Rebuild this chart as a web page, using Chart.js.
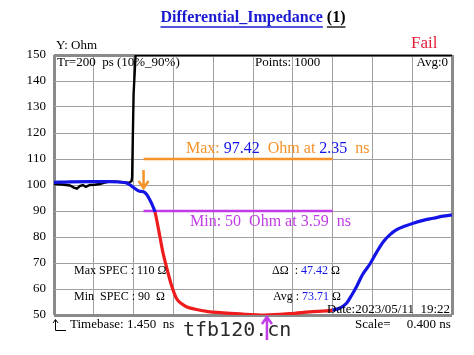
<!DOCTYPE html>
<html>
<head>
<meta charset="utf-8">
<script src="https://cdn.jsdelivr.net/npm/chart.js@4"></script>
<style>
  body { margin: 0; background: #fff; }
  canvas { display: block; }
</style>
</head>
<body>
<canvas id="tdrChart" width="474" height="355"></canvas>
<script>
// Time axis (ns) and readings
const timebase = 1.45;
const scaleNs = 0.4;

// Black trace (goes open after the launch)
const blackTime = [1.45, 1.53, 1.61, 1.65, 1.68, 1.71, 1.74, 1.77, 1.81, 1.86, 1.91, 1.96, 2.01, 2.06, 2.11, 2.17, 2.21, 2.23, 2.235, 2.25, 2.27, 5.45];
const blackOhm  = [100.4, 100.2, 99.8, 99.0, 98.6, 99.6, 100.0, 99.3, 100.0, 100.1, 100.4, 100.9, 101.3, 101.4, 101.2, 100.9, 101.0, 101.5, 103, 135, 150, 150];

// Differential impedance trace
const diffTime = [1.45, 1.61, 1.81, 2.01, 2.11, 2.18, 2.24, 2.31, 2.35, 2.38, 2.41, 2.445, 2.465, 2.515, 2.545, 2.58, 2.63, 2.68, 2.73, 2.78, 2.87, 3.0, 3.12, 3.32, 3.57, 3.82, 4.02, 4.25, 4.32, 4.39, 4.44, 4.49, 4.55, 4.63, 4.69, 4.76, 4.83, 4.89, 4.98, 5.06, 5.16, 5.26, 5.36, 5.45];
const diffOhm  = [101.0, 101.2, 101.3, 101.3, 101.1, 100.8, 99.3, 97.6, 97.4, 96.4, 94.5, 91.7, 89.6, 80.0, 74.0, 68.6, 61.5, 56.4, 54.4, 53.2, 52.2, 51.3, 50.9, 50.4, 50.0, 50.5, 51.2, 51.9, 52.6, 54.5, 57.5, 60.9, 65.5, 69.9, 74.0, 78.2, 81.0, 82.7, 84.2, 85.3, 86.4, 87.2, 88.0, 88.5];

// Spec window
const specTime = [2.35, 4.25];
const maxSpec = 110;
const minSpec = 90;
const failFrom = 2.46;

// Results
const maxOhm = 97.42, maxAt = 2.35;
const minOhm = 50, minAt = 3.59;
const deltaOhm = 47.42, avgOhm = 73.71;

const BLUE = '#1414e6';
const RED = '#ee1c1c';
const ORANGE = '#f5922a';
const VIOLET = '#c13ce6';
const GRID = '#a0a0a0';
const FRAME = '#8a8a8a';
const SERIF = '"Liberation Serif", "Times New Roman", serif';

function toPoints(xs, ys) {
    return xs.map((x, i) => ({ x: x, y: ys[i] }));
}

function drawParts(ctx, x, y, parts, font) {
    ctx.font = font;
    parts.forEach(p => {
        ctx.fillStyle = p[1];
        ctx.fillText(p[0], x, y);
        x += ctx.measureText(p[0]).width;
    });
}

// Texts, arrows and markers around the plot
const overlay = {
    id: 'overlay',
    afterDraw(chart) {
        const ctx = chart.ctx;
        const xs = chart.scales.x;
        const area = chart.chartArea;
        ctx.save();
        ctx.textBaseline = 'middle';
        ctx.textAlign = 'left';

        // title
        ctx.font = 'bold 16px ' + SERIF;
        const t1 = 'Differential_Impedance';
        const t2 = ' (1)';
        const w1 = ctx.measureText(t1).width, w2 = ctx.measureText(t2).width;
        let tx = 253 - (w1 + w2) / 2;
        ctx.fillStyle = '#1a1ad0';
        ctx.fillText(t1, tx, 18);
        ctx.fillStyle = '#000';
        ctx.fillText(t2, tx + w1, 18);
        ctx.lineWidth = 1.3;
        ctx.strokeStyle = '#1a1ad0';
        ctx.beginPath(); ctx.moveTo(tx, 27); ctx.lineTo(tx + w1, 27); ctx.stroke();
        ctx.strokeStyle = '#000';
        ctx.beginPath(); ctx.moveTo(tx + w1 + 4, 27); ctx.lineTo(tx + w1 + w2, 27); ctx.stroke();

        ctx.fillStyle = '#000';
        ctx.font = '13px ' + SERIF;
        ctx.fillText('Y: Ohm', 56, 46);
        ctx.fillStyle = '#e0203a';
        ctx.font = '17px ' + SERIF;
        ctx.fillText('Fail', 411, 44);

        ctx.fillStyle = '#000';
        ctx.font = '13px ' + SERIF;
        ctx.fillText('Tr=200  ps (10%_90%)', 57, 63);
        ctx.fillText('Points: 1000', 255, 63);
        ctx.textAlign = 'right';
        ctx.fillText('Avg:0', 448, 63);
        ctx.textAlign = 'left';

        // max / min readings
        const big = '16px ' + SERIF;
        drawParts(ctx, 186, 149, [['Max: ', ORANGE], [maxOhm.toFixed(2), BLUE], ['  Ohm at ', ORANGE], [maxAt.toFixed(2), BLUE], ['  ns', ORANGE]], big);
        drawParts(ctx, 190, 222, [['Min: ' + minOhm + '  Ohm at ' + minAt.toFixed(2) + '  ns', VIOLET]], big);

        const small = '12px ' + SERIF;
        drawParts(ctx, 74, 271, [['Max SPEC : ' + maxSpec + ' \u03a9', '#000']], small);
        drawParts(ctx, 74, 297, [['Min  SPEC : ' + minSpec + '  \u03a9', '#000']], small);
        drawParts(ctx, 272, 271, [['\u0394\u03a9  : ', '#000'], [deltaOhm.toFixed(2), BLUE], [' \u03a9', '#000']], small);
        drawParts(ctx, 273, 297, [['Avg : ', '#000'], [avgOhm.toFixed(2), BLUE], [' \u03a9', '#000']], small);
        drawParts(ctx, 327, 310, [['Date:2023/05/11  19:22', '#000']], '13px ' + SERIF);

        drawParts(ctx, 70, 325, [['Timebase: ' + timebase.toFixed(3) + '  ns', '#000']], '13px ' + SERIF);
        drawParts(ctx, 355, 325, [['Scale=     ' + scaleNs.toFixed(3) + ' ns', '#000']], '13px ' + SERIF);

        // timebase marker
        ctx.strokeStyle = '#000';
        ctx.lineWidth = 1;
        ctx.beginPath();
        ctx.moveTo(55.5, 320); ctx.lineTo(55.5, 330.5); ctx.lineTo(66, 330.5);
        ctx.moveTo(53, 323); ctx.lineTo(55.5, 319.5); ctx.lineTo(58, 323);
        ctx.stroke();

        // max arrow (down)
        const mx = xs.getPixelForValue(maxAt);
        ctx.strokeStyle = ORANGE;
        ctx.lineWidth = 2.5;
        ctx.beginPath();
        ctx.moveTo(mx, 170); ctx.lineTo(mx, 188);
        ctx.moveTo(mx - 5, 181); ctx.lineTo(mx, 188); ctx.lineTo(mx + 5, 181);
        ctx.stroke();

        // watermark
        ctx.fillStyle = '#2a2a2a';
        ctx.font = '20px "DejaVu Sans Mono", monospace';
        ctx.fillText('tfb120.cn', 183, 331);

        // min arrow (up)
        const nx = xs.getPixelForValue(minAt);
        ctx.strokeStyle = VIOLET;
        ctx.lineWidth = 2.5;
        ctx.beginPath();
        ctx.moveTo(nx, area.bottom + 2); ctx.lineTo(nx, area.bottom + 25);
        ctx.moveTo(nx - 5, area.bottom + 9); ctx.lineTo(nx, area.bottom + 2); ctx.lineTo(nx + 5, area.bottom + 9);
        ctx.stroke();

        ctx.restore();
    }
};

function edgeWidth(c, n) {
    return (c.index === 0 || c.index === n) ? 3 : 1;
}
function edgeColor(c, n) {
    return (c.index === 0 || c.index === n) ? FRAME : GRID;
}

const ctx = document.getElementById('tdrChart').getContext('2d');
new Chart(ctx, {
    type: 'line',
    data: {
        datasets: [
            {
                data: toPoints(diffTime, diffOhm),
                borderWidth: 3.2,
                borderColor: BLUE,
                segment: {
                    borderColor: c => (c.p0.parsed.x >= failFrom && c.p1.parsed.x <= specTime[1]) ? RED : BLUE
                },
                pointRadius: 0,
                cubicInterpolationMode: 'monotone'
            },
            {
                data: toPoints(specTime, [maxSpec, maxSpec]),
                borderWidth: 2.5,
                borderColor: ORANGE,
                pointRadius: 0
            },
            {
                data: toPoints(specTime, [minSpec, minSpec]),
                borderWidth: 2.5,
                borderColor: VIOLET,
                pointRadius: 0
            },
            {
                data: toPoints(blackTime, blackOhm),
                borderWidth: 2.4,
                borderColor: '#000',
                pointRadius: 0,
                tension: 0
            }
        ]
    },
    options: {
        responsive: false,
        animation: false,
        layout: { padding: { top: 55, right: 22, left: 0, bottom: 0 } },
        plugins: {
            legend: { display: false },
            tooltip: { enabled: false }
        },
        scales: {
            x: {
                type: 'linear',
                min: timebase,
                max: timebase + 10 * scaleNs,
                ticks: { display: false, stepSize: scaleNs },
                border: { display: false },
                grid: {
                    drawTicks: false,
                    lineWidth: c => edgeWidth(c, 10),
                    color: c => edgeColor(c, 10)
                },
                afterFit: s => { s.height = 40; }
            },
            y: {
                min: 50,
                max: 150,
                ticks: {
                    stepSize: 10,
                    padding: 8,
                    color: '#000',
                    font: { family: SERIF, size: 13 }
                },
                border: { display: false },
                grid: {
                    drawTicks: false,
                    lineWidth: c => edgeWidth(c, 10),
                    color: c => edgeColor(c, 10)
                },
                afterFit: s => { s.width = 54; }
            }
        }
    },
    plugins: [overlay]
});
</script>
</body>
</html>
